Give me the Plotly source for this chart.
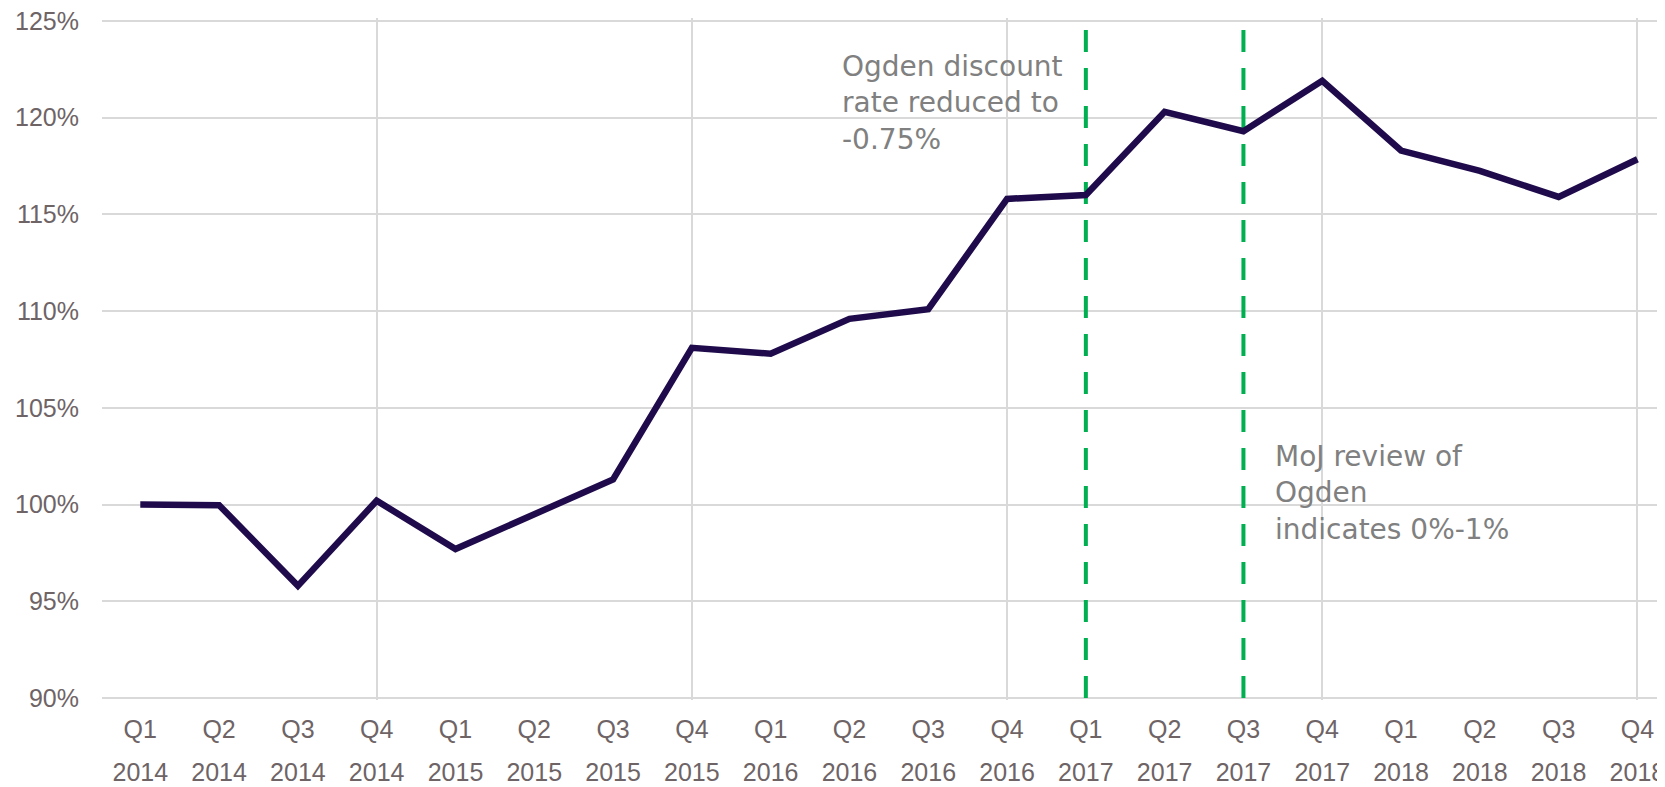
import plotly.graph_objects as go

quarters = ["Q1", "Q2", "Q3", "Q4"] * 5
years = ["2014"] * 4 + ["2015"] * 4 + ["2016"] * 4 + ["2017"] * 4 + ["2018"] * 4
categories = [f"{q} {y}" for q, y in zip(quarters, years)]
values = [100.0, 99.97, 95.8, 100.2, 97.7, 99.5, 101.3, 108.1, 107.8, 109.6,
          110.1, 115.8, 116.0, 120.3, 119.3, 121.9, 118.3, 117.25, 115.9, 117.85]
event_categories = ["Q1 2017", "Q3 2017"]
event_labels = ["Ogden discount<br>rate reduced to<br>-0.75%",
                "MoJ review of<br>Ogden<br>indicates 0%-1%"]
grid_categories = [c for c in categories if c.startswith("Q4")]
y_ticks = [90, 95, 100, 105, 110, 115, 120, 125]
y_labels = [f"{v}%" for v in y_ticks]

LINE = "#1F0B4B"
GREEN = "#00B050"
TICK = "#6E6466"
GRID = "#D9D9D9"

fig = go.Figure()
for ev in event_categories:
    fig.add_trace(go.Scatter(x=[ev, ev], y=[y_ticks[0], y_ticks[-1]], mode="lines",
                             line=dict(color=GREEN, width=4, dash="22px,16px"),
                             hoverinfo="skip", showlegend=False))
fig.add_trace(go.Scatter(x=categories, y=values, mode="lines",
                         line=dict(color=LINE, width=6.5), showlegend=False))
# helper invisible traces for overlay axes
fig.add_trace(go.Scatter(x=categories, y=values, xaxis="x2", mode="lines",
                         line=dict(width=0), opacity=0, hoverinfo="skip", showlegend=False))
fig.add_trace(go.Scatter(x=categories, y=values, xaxis="x3", mode="lines",
                         line=dict(width=0), opacity=0, hoverinfo="skip", showlegend=False))

xr = [-0.486, 19.35]
tickfont = dict(family="Liberation Sans, Arial, sans-serif", size=25, color=TICK)
# page body has an 8px default margin, compensated here
fig.update_layout(
    width=1657, height=779,
    margin=dict(l=94, r=0, t=10, b=87),
    paper_bgcolor="white", plot_bgcolor="white",
    xaxis=dict(type="category", categoryorder="array", categoryarray=categories,
               range=xr, tickvals=categories, ticktext=quarters, showgrid=False,
               zeroline=False, showline=False, ticks="", tickfont=tickfont,
               ticklabelstandoff=12, automargin=False),
    xaxis2=dict(type="category", categoryorder="array", categoryarray=categories,
                overlaying="x", side="bottom", range=xr, tickvals=categories,
                ticktext=years, showgrid=False, zeroline=False, showline=False,
                ticks="", tickfont=tickfont, ticklabelstandoff=55,
                ticklabeloverflow="allow", automargin=False),
    xaxis3=dict(type="category", categoryorder="array", categoryarray=categories,
                overlaying="x", side="bottom", range=xr, tickvals=grid_categories,
                showticklabels=False, showgrid=True, gridcolor=GRID, gridwidth=1.5,
                zeroline=False, showline=False, ticks="", automargin=False),
    yaxis=dict(range=[y_ticks[0] - 0.1, y_ticks[-1] + 0.15], tickvals=y_ticks,
               ticktext=y_labels, showgrid=True, gridcolor=GRID, gridwidth=1.5,
               zeroline=False, showline=False, ticks="", tickfont=tickfont,
               ticklabelstandoff=22, ticklabeloverflow="allow", automargin=False),
)

ann_font = dict(family="DejaVu Sans, sans-serif", size=28, color="#808080")
ann_pos = [(8.88, 123.6), (14.38, 103.45)]
for (ax, ay), txt in zip(ann_pos, event_labels):
    fig.add_annotation(x=ax, y=ay, xref="x", yref="y", text=txt, showarrow=False,
                       xanchor="left", yanchor="top", align="left", font=ann_font)

fig.write_html("out.html")
